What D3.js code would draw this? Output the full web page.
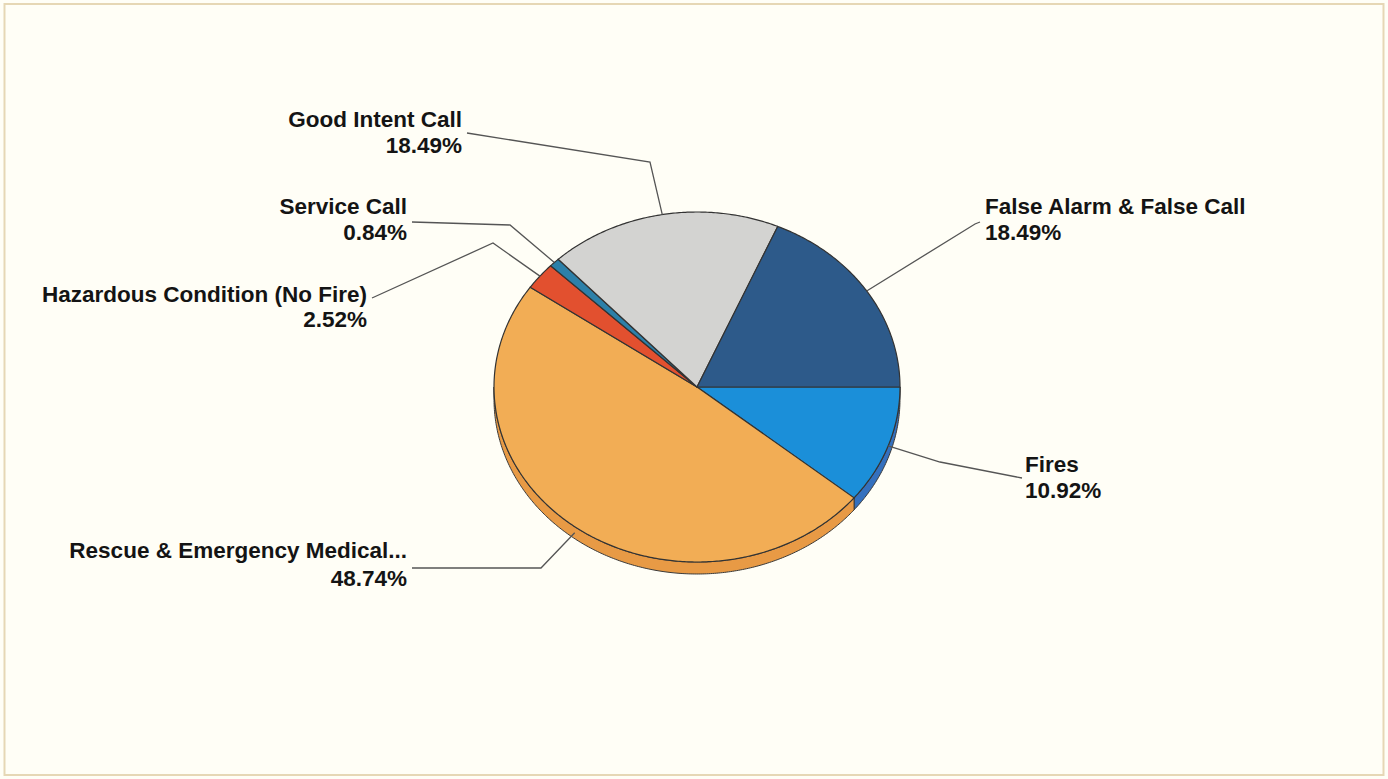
<!DOCTYPE html>
<html><head><meta charset="utf-8">
<script src="https://cdn.jsdelivr.net/npm/d3@7/dist/d3.min.js"></script>
<style>
html,body{margin:0;padding:0;background:#fffef6;}
svg{display:block;}
</style></head>
<body>
<svg id="chart" width="1388" height="779"></svg>
<script>
const categories = ["Fires","Rescue & Emergency Medical...","Hazardous Condition (No Fire)","Service Call","Good Intent Call","False Alarm & False Call"];
const values = [10.92, 48.74, 2.52, 0.84, 18.49, 18.49];
const percentLabels = ["10.92%","48.74%","2.52%","0.84%","18.49%","18.49%"];
const topColors = ["#1b8fd9","#f2ad55","#e2502f","#2c80a9","#d3d3d1","#2d5a8a"];
const sideColors = ["#3470be","#e89a45","#c0401f","#226a8e","#b5b5b3","#244a73"];

// layout (label anchors and leader elbows)
const labelPos = [
  {x:1025, y:472, anchor:"start", elbow:[[940,462],[1022,478]]},
  {x:407, y:558, dy:28, anchor:"end", elbow:[[541,568],[412,568]]},
  {x:367, y:302, dy:25, anchor:"end", elbow:[[493,243],[372,298]]},
  {x:407, y:214, anchor:"end", elbow:[[510,225],[412,222]]},
  {x:462, y:127, anchor:"end", elbow:[[650,162],[467,133]]},
  {x:985, y:214, anchor:"start", elbow:[[975,224],[980,222]]}
];

const W = 1388, H = 779;
const cx = 697, cy = 387, rx = 203, ry = 175, depth = 12;

const svg = d3.select("#chart");
svg.append("rect").attr("x",0).attr("y",0).attr("width",W).attr("height",H).attr("fill","#fffef6");
svg.append("rect").attr("x",4.5).attr("y",4).attr("width",1379).attr("height",771)
  .attr("fill","none").attr("stroke","#e6d7b5").attr("stroke-width",2);

const pie = d3.pie().sort(null).value(d=>d).startAngle(Math.PI/2).endAngle(Math.PI/2 + 2*Math.PI);
const arcs = pie(values);

const px = a => cx + rx*Math.sin(a);
const py = a => cy - ry*Math.cos(a);
const line = d3.line();

function edgePts(a0, a1, dy){
  const n = Math.max(2, Math.ceil(Math.abs(a1-a0)/0.01));
  return d3.range(n+1).map(i=>{const a=a0+(a1-a0)*i/n; return [px(a), py(a)+dy];});
}

// side walls (visible: from east through south to west => angles PI/2..3PI/2)
const gSide = svg.append("g");
arcs.forEach((d,i)=>{
  const segs = [[d.startAngle,d.endAngle],[d.startAngle-2*Math.PI,d.endAngle-2*Math.PI]];
  segs.forEach(([s,e])=>{
    const a0 = Math.max(s, Math.PI/2), a1 = Math.min(e, 3*Math.PI/2);
    if (a1 > a0) {
      const pts = edgePts(a0,a1,0).concat(edgePts(a1,a0,depth));
      gSide.append("path").attr("d", line(pts)+"Z")
        .attr("fill", sideColors[i]).attr("stroke","#3a3a3a").attr("stroke-width",1).attr("stroke-linejoin","round");
    }
  });
});

// top faces
const gTop = svg.append("g");
arcs.forEach((d,i)=>{
  const pts = [[cx,cy]].concat(edgePts(d.startAngle,d.endAngle,0));
  gTop.append("path").attr("d", line(pts)+"Z")
    .attr("fill", topColors[i]).attr("stroke","#333").attr("stroke-width",1.2).attr("stroke-linejoin","round");
});

// leader lines
const gLead = svg.append("g");
arcs.forEach((d,i)=>{
  const m = (d.startAngle+d.endAngle)/2;
  const lp = labelPos[i];
  const lower = Math.cos(m) < -0.5 ? depth*0.5 : 0;
  const pts = [[px(m), py(m)+lower]].concat(lp.elbow);
  gLead.append("path").attr("d", line(pts)).attr("fill","none")
    .attr("stroke","#555").attr("stroke-width",1.3);
});

// labels
const gLab = svg.append("g").attr("font-family","'Liberation Sans', Arial, sans-serif")
  .attr("font-weight","bold").attr("font-size","22.5px").attr("fill","#141414");
categories.forEach((c,i)=>{
  const lp = labelPos[i];
  const t = gLab.append("text").attr("text-anchor", lp.anchor);
  t.append("tspan").attr("x", lp.x).attr("y", lp.y).text(c);
  t.append("tspan").attr("x", lp.x).attr("y", lp.y + (lp.dy||26)).text(percentLabels[i]);
});
</script>
</body></html>
